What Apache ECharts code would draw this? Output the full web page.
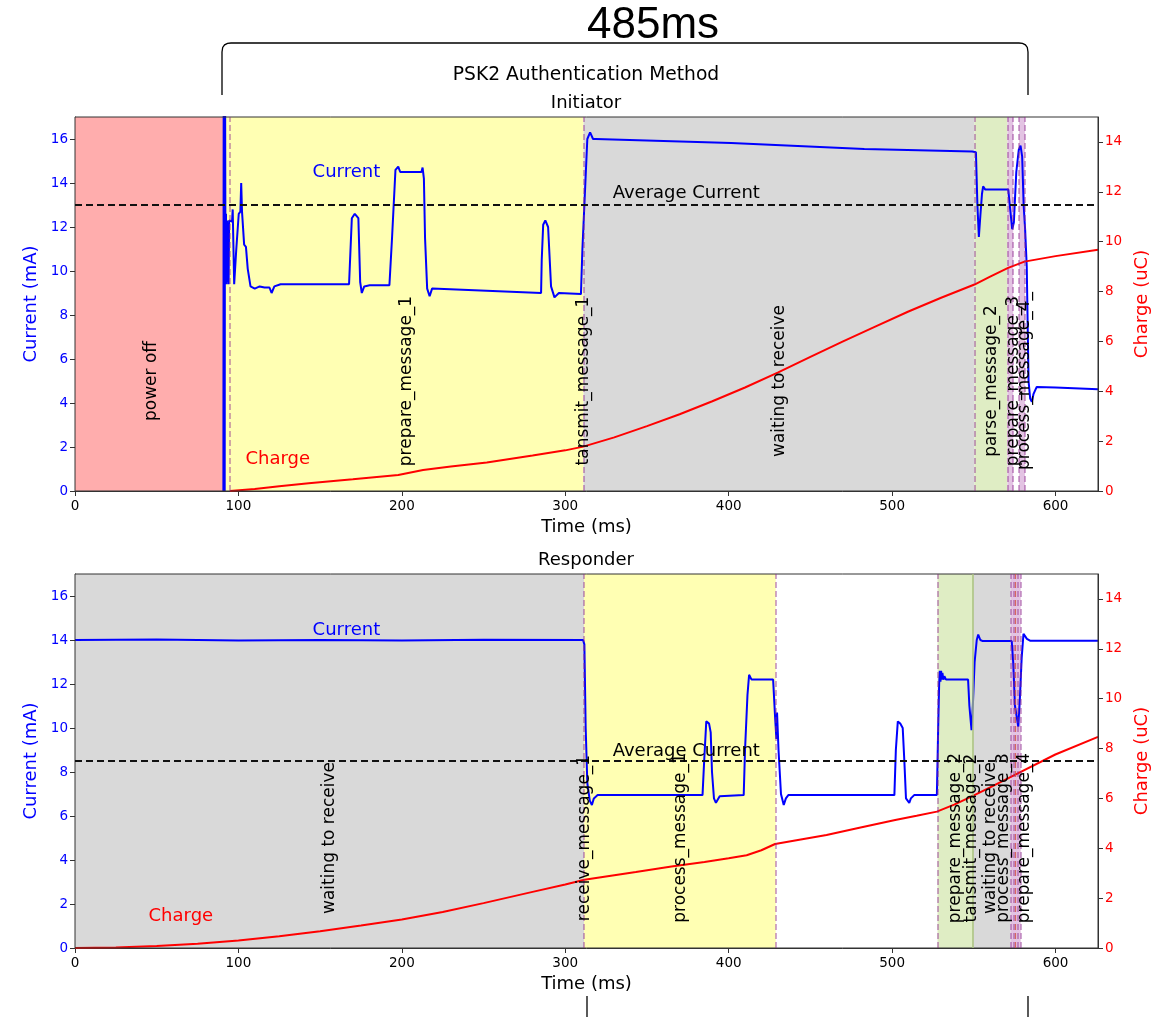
<!DOCTYPE html>
<html>
<head>
<meta charset="utf-8">
<script src="https://cdn.jsdelivr.net/npm/echarts@6.0.0/dist/echarts.min.js"></script>
<style>
  html, body { margin: 0; padding: 0; background: #fff; }
  #main { width: 1160px; height: 1017px; }
</style>
</head>
<body>
<div id="main"></div>
<script>
// ---- Initiator (top) ----
var initCurrent = [
  [90.8,0],[91.0,20],[91.2,0],[91.4,20],[91.6,0],[91.8,20],[92.1,9.4],[92.4,12.6],[92.7,9.4],
  [93.0,12.3],[93.3,9.5],
  [93.7,12.2],[94.0,9.4],[94.3,12.3],[94.8,12.25],[96.1,12.25],[96.5,12.8],[96.9,12.8],[97.4,9.4],
  [98.4,9.4],[98.7,11.0],[99.6,11.0],[100.2,12.6],[101.2,12.7],[101.7,14.0],[102.2,12.7],[103.0,12.7],
  [103.5,11.2],[104.6,11.1],[105.7,10.1],[106.5,10.1],[107.4,9.3],[110,9.2],[113,9.3],[116,9.25],
  [119,9.25],[120.3,9.0],[122,9.3],[125.8,9.4],[167.7,9.4],[169.4,12.4],[171.2,12.6],[173.4,12.4],
  [174.5,9.5],[175.5,9.0],[177,9.3],[180.3,9.35],[192.4,9.35],[194,11.5],[196.1,14.6],[197.8,14.74],
  [199,14.5],[212,14.5],[212.7,14.7],[213.5,14.2],[214.2,11.5],[215.5,9.2],[217,8.85],[218.5,9.2],
  [219.7,9.25],[285.2,9.0],[285.6,10.5],[286.5,12.1],[287.8,12.3],[289.5,12.0],[291.3,9.3],[293.4,8.8],
  [296.1,9.0],[309.6,8.95],[310.5,11],[313.5,16.0],[315.2,16.3],[317,16.0],[318.7,16.0],[401.5,15.82],
  [483,15.55],[549,15.43],[551.3,15.4],[552.2,13],[553.1,11.55],[554,12.5],[555,13.5],[555.7,13.85],
  [557,13.7],[571.1,13.7],[572,13],[573.5,11.9],[574.5,12.2],[576,14.5],[577.5,15.5],[578.6,15.7],
  [579.6,15.2],[580.5,13],[581.4,11.9],[582.4,10.2],[583.5,5],[584.5,4.2],[585.5,4.05],[586.5,4.4],
  [588.5,4.73],[600,4.7],[626,4.62]
];
var initCharge = [
  [94.8,0],[110,0.08],[125,0.19],[143,0.31],[170,0.47],[197.8,0.64],[213,0.84],[230,0.98],[252,1.14],
  [280,1.42],[300,1.63],[311,1.78],[330,2.15],[350,2.6],[370,3.08],[390,3.6],[410,4.15],[430,4.75],
  [450,5.38],[470,6.0],[490,6.6],[510,7.2],[530,7.75],[550.4,8.28],[560,8.6],[571,8.95],[581,9.2],
  [600,9.42],[626,9.68]
];
var initAvg = 13.0;
var initPhaseStart = [0, 92, 311.2, 550.4, 570.6, 577.7];
var initPhaseEnd   = [92, 311.2, 550.4, 570.6, 574.1, 581.3];
var initPhaseKind  = ['off', 'prep', 'wait', 'parse', 'proc', 'proc'];
var initMarks = [94.8, 311.2, 550.4, 570.6, 574.1, 577.7, 581.3];
var initLabels = ['power off', 'prepare_message_1', 'tansmit_message_1', 'waiting to receive',
                  'parse_message_2', 'prepare_message_3', 'process_message_4_'];
var initLabelX = [46.7, 203, 311.5, 431.3, 561, 574.3, 581.3];

// ---- Responder (bottom) ----
var respCurrent = [
  [0,14.0],[50,14.02],[100,13.98],[150,14.0],[200,13.98],[250,14.01],[310.9,14.0],[311.7,13.8],
  [312.5,10],[313.5,7.5],[315,6.7],[316.3,6.5],[317.5,6.8],[319.8,6.95],[384,6.95],[385,8.5],
  [386.3,10.3],[388,10.2],[389,9.8],[389.8,8],[391,6.8],[392.2,6.6],[394.5,6.9],[409.2,6.95],
  [410,9],[411.5,11.5],[412.5,12.42],[414,12.2],[427.2,12.2],[428.4,10.5],[429.2,9.5],[429.6,10.7],
  [430.5,9],[432,7],[433.7,6.5],[435,6.8],[436.5,6.95],[501.4,6.95],[502.3,9],[503.5,10.3],
  [505,10.2],[506.5,10.0],[507.5,8.5],[508.5,6.8],[510.5,6.6],[511.5,6.8],[513.5,6.95],[527.4,6.95],
  [528.2,10],[528.8,12],[529.2,12.6],[529.6,12.1],[530,12.6],[530.4,12.2],[530.8,12.5],[531.4,12.2],
  [532,12.35],[533,12.2],[546.5,12.2],[547.3,11],[548.6,9.9],[549.4,11],[550.5,13],[551.8,14],
  [552.7,14.25],[554,14.0],[555.5,13.95],[573.2,13.95],[574.1,13],[575.2,11],[577.2,10.06],
  [578.3,11.5],[579.3,13.2],[580.4,14.28],[582.5,14.05],[584.4,13.97],[626,13.97]
];
var respCharge = [
  [0,0],[25,0.02],[50,0.08],[75,0.17],[100,0.3],[125,0.47],[150,0.67],[175,0.9],[200,1.14],
  [225,1.44],[250,1.8],[280,2.25],[300,2.55],[311.7,2.74],[330,2.92],[343.2,3.05],[365,3.27],
  [385.2,3.45],[400,3.6],[411,3.72],[420,3.92],[428.4,4.17],[445,4.36],[459.9,4.53],[480,4.82],
  [501.9,5.13],[515,5.3],[527.4,5.47],[538,5.75],[548.5,6.07],[560,6.44],[574.2,6.91],
  [599.9,7.76],[626,8.47]
];
var respAvg = 8.5;
var respPhaseStart = [0, 311.5, 527.8, 549.6, 572.6];
var respPhaseEnd   = [311.5, 428.8, 549.6, 572.6, 578.7];
var respPhaseKind  = ['wait', 'prep', 'parse', 'wait', 'proc'];
var respMarks = [311.5, 428.8, 527.8, 572.6, 574.6, 576.6, 578.7];
var respLabels = ['waiting to receive', 'receive_message_1', 'process_message_1', 'prepare_message_2',
                  'tansmit_message_2', 'waiting to receive', 'process_message_3', 'prepare_message_4'];
var respLabelX = [155.7, 311.8, 370.4, 539.1, 548.5, 560.2, 568.5, 581.3];

var timeTicks = [0, 100, 200, 300, 400, 500, 600];

// ---- styles ----
var phaseColor = {
  off: '#ffadad', prep: '#ffffb3', wait: '#d9d9d9', parse: '#dfedc4', proc: '#e3c3e3'
};
var FONT = 'DejaVu Sans';
var GRID_LEFT = 75, GRID_W = 1023, GRID_H = 374;
var tops = [117, 574];

var chart = echarts.init(document.getElementById('main'));

function xAxisFor(i) {
  return {
    type: 'value', gridIndex: i, min: 0, max: 626, interval: 100,
    name: 'Time (ms)', nameLocation: 'middle', nameGap: 27,
    nameTextStyle: { color: '#000', fontSize: 18, fontFamily: FONT },
    axisLine: { show: true, onZero: false, lineStyle: { color: '#333', width: 1 } },
    axisTick: { show: true, length: 5, lineStyle: { color: '#333' } },
    axisLabel: { color: '#000', fontSize: 13.5, fontFamily: FONT, margin: 8,
      showMaxLabel: false,
      formatter: function (v) { return timeTicks.indexOf(v) >= 0 ? String(v) : ''; } },
    splitLine: { show: false }
  };
}
function yLeft(i) {
  return {
    type: 'value', gridIndex: i, min: 0, max: 17, interval: 2, position: 'left',
    name: 'Current (mA)', nameLocation: 'middle', nameGap: 33,
    nameTextStyle: { color: '#0000ff', fontSize: 18, fontFamily: FONT },
    axisLine: { show: true, lineStyle: { color: '#333' } },
    axisTick: { show: true, length: 5, lineStyle: { color: '#333' } },
    axisLabel: { color: '#0000ff', fontSize: 13.5, fontFamily: FONT, margin: 7, showMaxLabel: false },
    splitLine: { show: false }
  };
}
function yRight(i) {
  return {
    type: 'value', gridIndex: i, min: 0, max: 15, interval: 2, position: 'right',
    name: 'Charge (uC)', nameLocation: 'middle', nameGap: 30,
    nameTextStyle: { color: '#ff0000', fontSize: 18, fontFamily: FONT },
    axisLine: { show: true, lineStyle: { color: '#333' } },
    axisTick: { show: true, length: 5, lineStyle: { color: '#333' } },
    axisLabel: { color: '#ff0000', fontSize: 13.5, fontFamily: FONT, margin: 7, showMaxLabel: false },
    splitLine: { show: false }
  };
}

function phaseSeries(g, starts, ends, kinds, marks, extra) {
  var areas = starts.map(function (s, k) {
    return [{ xAxis: s, itemStyle: { color: phaseColor[kinds[k]] } }, { xAxis: ends[k] }];
  });
  var lines = marks.map(function (m) {
    return { xAxis: m, lineStyle: { color: 'rgba(140,40,140,0.55)', width: 1.5, type: [6, 3] } };
  });
  (extra || []).forEach(function (e) { lines.push(e); });
  return {
    type: 'line', xAxisIndex: g, yAxisIndex: g * 2, data: [], silent: true, z: 1,
    markArea: { silent: true, data: areas },
    markLine: { silent: true, symbol: 'none', label: { show: false }, data: lines, animation: false }
  };
}

function textSeries(g, axisIdx, items, label) {
  return {
    type: 'scatter', xAxisIndex: g, yAxisIndex: axisIdx, silent: true, z: 10,
    symbolSize: 0, itemStyle: { color: '#000' },
    data: items,
    label: Object.assign({ show: true, formatter: '{b}', fontFamily: FONT,
      textBorderWidth: 0, textShadowBlur: 0, opacity: 1 }, label)
  };
}

function phaseLabels(names, xs) {
  return names.map(function (n, k) { return { name: n, value: [xs[k], 5] }; });
}

var series = [
  phaseSeries(0, initPhaseStart, initPhaseEnd, initPhaseKind, initMarks),
  phaseSeries(1, respPhaseStart, respPhaseEnd, respPhaseKind, respMarks, [
    { xAxis: 549.6, lineStyle: { color: '#a9c07e', width: 1.5, type: 'solid' } },
    { xAxis: 575.4, lineStyle: { color: 'rgba(210,80,60,0.8)', width: 1.2, type: [6, 3] } }
  ]),
  {
    type: 'line', xAxisIndex: 0, yAxisIndex: 0, data: initCurrent, showSymbol: false, z: 3,
    lineStyle: { color: '#0000ff', width: 2 }, itemStyle: { color: '#0000ff' },
    markLine: { silent: true, symbol: 'none', label: { show: false },
      data: [{ yAxis: initAvg }], lineStyle: { color: '#111', width: 2, type: [7, 4] } }
  },
  {
    type: 'line', xAxisIndex: 0, yAxisIndex: 1, data: initCharge, showSymbol: false, z: 3,
    lineStyle: { color: '#ff0000', width: 2 }, itemStyle: { color: '#ff0000' }
  },
  {
    type: 'line', xAxisIndex: 1, yAxisIndex: 2, data: respCurrent, showSymbol: false, z: 3,
    lineStyle: { color: '#0000ff', width: 2 }, itemStyle: { color: '#0000ff' },
    markLine: { silent: true, symbol: 'none', label: { show: false },
      data: [{ yAxis: respAvg }], lineStyle: { color: '#111', width: 2, type: [7, 4] } }
  },
  {
    type: 'line', xAxisIndex: 1, yAxisIndex: 3, data: respCharge, showSymbol: false, z: 3,
    lineStyle: { color: '#ff0000', width: 2 }, itemStyle: { color: '#ff0000' }
  },
  // rotated phase names
  textSeries(0, 0, phaseLabels(initLabels, initLabelX),
    { position: 'inside', rotate: 90, align: 'center', verticalAlign: 'middle', color: '#000', fontSize: 17 }),
  textSeries(1, 2, phaseLabels(respLabels, respLabelX),
    { position: 'inside', rotate: 90, align: 'center', verticalAlign: 'middle', color: '#000', fontSize: 17 }),
  // annotations
  textSeries(0, 0, [{ name: 'Average Current', value: [329, 13.1] }],
    { position: 'inside', align: 'left', verticalAlign: 'bottom', color: '#000', fontSize: 18 }),
  textSeries(1, 2, [{ name: 'Average Current', value: [329, 8.55] }],
    { position: 'inside', align: 'left', verticalAlign: 'bottom', color: '#000', fontSize: 18 }),
  textSeries(0, 0, [{ name: 'Current', value: [145.4, 14.49] }],
    { position: 'inside', align: 'left', verticalAlign: 'middle', color: '#0000ff', fontSize: 18 }),
  textSeries(0, 0, [{ name: 'Charge', value: [104.3, 1.46] }],
    { position: 'inside', align: 'left', verticalAlign: 'middle', color: '#ff0000', fontSize: 18 }),
  textSeries(1, 2, [{ name: 'Current', value: [145.4, 14.45] }],
    { position: 'inside', align: 'left', verticalAlign: 'middle', color: '#0000ff', fontSize: 18 }),
  textSeries(1, 2, [{ name: 'Charge', value: [45, 1.45] }],
    { position: 'inside', align: 'left', verticalAlign: 'middle', color: '#ff0000', fontSize: 18 })
];

var option = {
  animation: false,
  backgroundColor: '#fff',
  grid: tops.map(function (t) {
    return { left: GRID_LEFT, top: t, width: GRID_W, height: GRID_H, containLabel: false,
             show: true, borderColor: '#333', borderWidth: 1, backgroundColor: 'transparent', z: 5 };
  }),
  xAxis: [xAxisFor(0), xAxisFor(1)],
  yAxis: [yLeft(0), yRight(0), yLeft(1), yRight(1)],
  series: series,
  graphic: [
    { type: 'text', style: { text: '485ms', x: 653, y: 26,
      font: '44px "Liberation Sans", Arial, sans-serif', fill: '#000', textAlign: 'center', textVerticalAlign: 'middle' } },
    { type: 'polyline', shape: { points: [[222,95],[222,52],[222.7,47.5],[224.6,44.8],[227.5,43.3],[231,43],
        [1019,43],[1022.5,43.3],[1025.4,44.8],[1027.3,47.5],[1028,52],[1028,95]] },
      style: { fill: null, stroke: '#000', lineWidth: 1.3 } },
    { type: 'line', shape: { x1: 587, y1: 996, x2: 587, y2: 1017 }, style: { stroke: '#000', lineWidth: 1.3 } },
    { type: 'line', shape: { x1: 1028, y1: 996, x2: 1028, y2: 1017 }, style: { stroke: '#000', lineWidth: 1.3 } },
    { type: 'text', style: { text: 'PSK2 Authentication Method', x: 586, y: 75,
      font: '18.7px "DejaVu Sans"', fill: '#000', textAlign: 'center', textVerticalAlign: 'middle' } },
    { type: 'text', style: { text: 'Initiator', x: 586, y: 103,
      font: '18px "DejaVu Sans"', fill: '#000', textAlign: 'center', textVerticalAlign: 'middle' } },
    { type: 'text', style: { text: 'Responder', x: 586, y: 560,
      font: '18px "DejaVu Sans"', fill: '#000', textAlign: 'center', textVerticalAlign: 'middle' } }
  ]
};
chart.setOption(option);
</script>
</body>
</html>
